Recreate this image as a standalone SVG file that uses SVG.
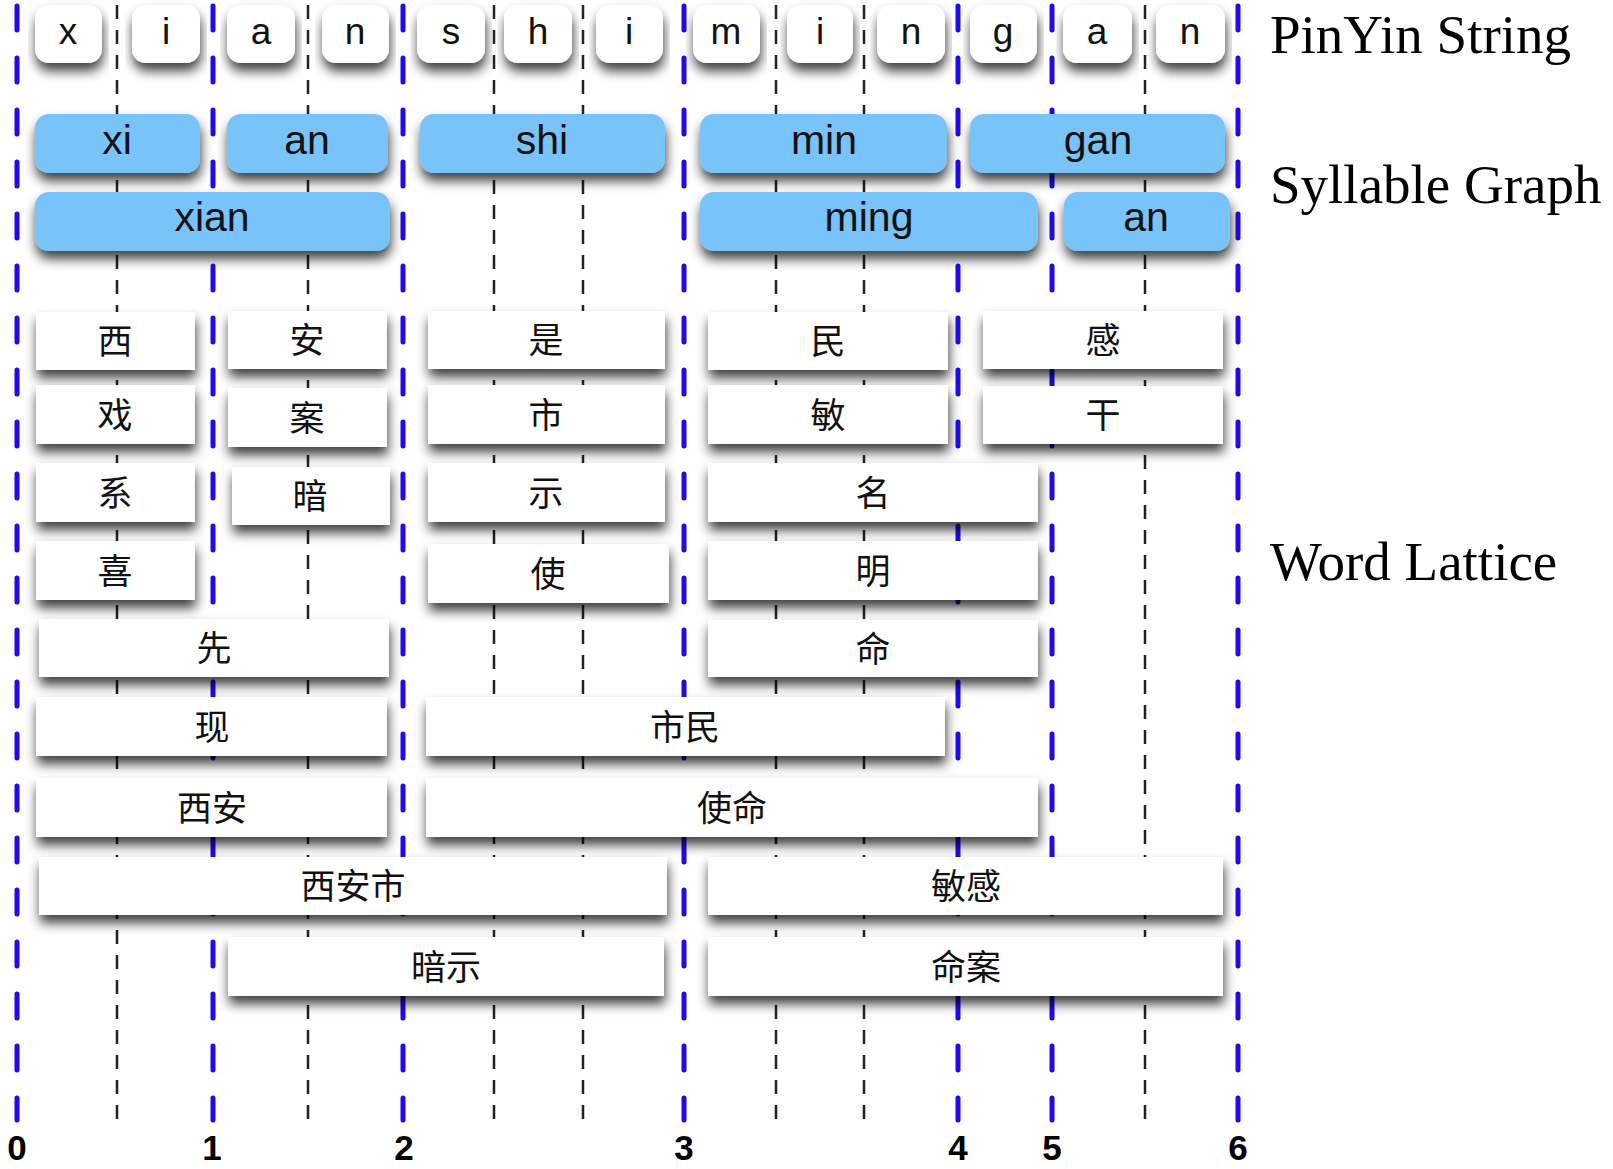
<svg xmlns="http://www.w3.org/2000/svg" width="1613" height="1169" viewBox="0 0 1613 1169">
<defs>
<filter id="sh" x="-10%" y="-30%" width="120%" height="190%">
<feDropShadow dx="1" dy="8" stdDeviation="6" flood-color="#000" flood-opacity="0.75"/>
</filter>
<style>
.blue{stroke:#2108f0;stroke-width:5;stroke-dasharray:24 28;stroke-linecap:round;fill:none}
.blk{stroke:#222;stroke-width:2.5;stroke-dasharray:14 11;fill:none}
.let rect{fill:#fff;filter:url(#sh)}
.syl rect{fill:#78c3fa;filter:url(#sh)}
.wrd rect{fill:#fff;filter:url(#sh)}
.lt{font-family:"Liberation Sans",Arial,sans-serif;font-size:37px;text-anchor:middle;fill:#111}
.st{font-family:"Liberation Sans",Arial,sans-serif;font-size:41px;text-anchor:middle;fill:#111}
.wt{font-family:"Noto Sans CJK SC","Liberation Sans",sans-serif;font-size:35px;text-anchor:middle;fill:#111}
.lab{font-family:"Liberation Serif","Times New Roman",serif;font-size:55px;fill:#000}
.num{font-family:"Liberation Sans",Arial,sans-serif;font-weight:bold;font-size:35px;text-anchor:middle;fill:#000}
</style>
</defs>
<rect width="1613" height="1169" fill="#fff"/>
<g id="connectors">
<line class="blue" x1="17" y1="6" x2="17" y2="1120"/>
<line class="blue" x1="213" y1="6" x2="213" y2="1120"/>
<line class="blue" x1="403" y1="6" x2="403" y2="1120"/>
<line class="blue" x1="684" y1="6" x2="684" y2="1120"/>
<line class="blue" x1="958" y1="6" x2="958" y2="1120"/>
<line class="blue" x1="1052" y1="6" x2="1052" y2="1120"/>
<line class="blue" x1="1238" y1="6" x2="1238" y2="1120"/>
<line class="blk" x1="117" y1="5" x2="117" y2="1120"/>
<line class="blk" x1="308" y1="5" x2="308" y2="1120"/>
<line class="blk" x1="494" y1="5" x2="494" y2="1120"/>
<line class="blk" x1="583" y1="5" x2="583" y2="1120"/>
<line class="blk" x1="776" y1="5" x2="776" y2="1120"/>
<line class="blk" x1="864" y1="5" x2="864" y2="1120"/>
<line class="blk" x1="1145" y1="5" x2="1145" y2="1120"/>
</g>
<g id="pinyin-string">
<g id="l1" class="let"><rect x="35" y="5" width="67" height="58" rx="14"/><text class="lt" x="68" y="44">x</text></g>
<g id="l2" class="let"><rect x="132" y="5" width="68" height="58" rx="14"/><text class="lt" x="166" y="44">i</text></g>
<g id="l3" class="let"><rect x="227" y="5" width="68" height="58" rx="14"/><text class="lt" x="261" y="44">a</text></g>
<g id="l4" class="let"><rect x="322" y="5" width="67" height="58" rx="14"/><text class="lt" x="355" y="44">n</text></g>
<g id="l5" class="let"><rect x="417" y="5" width="68" height="58" rx="14"/><text class="lt" x="451" y="44">s</text></g>
<g id="l6" class="let"><rect x="504" y="5" width="68" height="58" rx="14"/><text class="lt" x="538" y="44">h</text></g>
<g id="l7" class="let"><rect x="596" y="5" width="67" height="58" rx="14"/><text class="lt" x="629" y="44">i</text></g>
<g id="l8" class="let"><rect x="693" y="5" width="67" height="58" rx="14"/><text class="lt" x="726" y="44">m</text></g>
<g id="l9" class="let"><rect x="787" y="5" width="66" height="58" rx="14"/><text class="lt" x="820" y="44">i</text></g>
<g id="l10" class="let"><rect x="877" y="5" width="68" height="58" rx="14"/><text class="lt" x="911" y="44">n</text></g>
<g id="l11" class="let"><rect x="970" y="5" width="67" height="58" rx="14"/><text class="lt" x="1003" y="44">g</text></g>
<g id="l12" class="let"><rect x="1063" y="5" width="69" height="58" rx="14"/><text class="lt" x="1097" y="44">a</text></g>
<g id="l13" class="let"><rect x="1156" y="5" width="69" height="58" rx="14"/><text class="lt" x="1190" y="44">n</text></g>
</g>
<g id="syllable-graph">
<g id="s-xi" class="syl"><rect x="35" y="114" width="165" height="59" rx="14"/><text class="st" x="117" y="154">xi</text></g>
<g id="s-an1" class="syl"><rect x="227" y="114" width="161" height="59" rx="14"/><text class="st" x="307" y="154">an</text></g>
<g id="s-shi" class="syl"><rect x="420" y="114" width="245" height="59" rx="14"/><text class="st" x="542" y="154">shi</text></g>
<g id="s-min" class="syl"><rect x="700" y="114" width="247" height="59" rx="14"/><text class="st" x="824" y="154">min</text></g>
<g id="s-gan" class="syl"><rect x="970" y="114" width="255" height="59" rx="14"/><text class="st" x="1098" y="154">gan</text></g>
<g id="s-xian" class="syl"><rect x="35" y="192" width="355" height="59" rx="14"/><text class="st" x="212" y="231">xian</text></g>
<g id="s-ming" class="syl"><rect x="700" y="192" width="338" height="59" rx="14"/><text class="st" x="869" y="231">ming</text></g>
<g id="s-an2" class="syl"><rect x="1064" y="192" width="166" height="59" rx="14"/><text class="st" x="1146" y="231">an</text></g>
</g>
<g id="word-lattice">
<g id="w-xi1" class="wrd"><rect x="36" y="312" width="159" height="58"/><text class="wt" x="115" y="354">西</text></g>
<g id="w-an1" class="wrd"><rect x="228" y="311" width="159" height="58"/><text class="wt" x="307" y="353">安</text></g>
<g id="w-xi2" class="wrd"><rect x="36" y="385" width="159" height="59"/><text class="wt" x="115" y="428">戏</text></g>
<g id="w-an2" class="wrd"><rect x="228" y="388" width="159" height="59"/><text class="wt" x="307" y="431">案</text></g>
<g id="w-xi3" class="wrd"><rect x="36" y="463" width="159" height="59"/><text class="wt" x="115" y="506">系</text></g>
<g id="w-an3" class="wrd"><rect x="232" y="467" width="158" height="58"/><text class="wt" x="310" y="509">暗</text></g>
<g id="w-xi4" class="wrd"><rect x="36" y="541" width="159" height="59"/><text class="wt" x="115" y="584">喜</text></g>
<g id="w-xian1" class="wrd"><rect x="39" y="619" width="350" height="58"/><text class="wt" x="214" y="661">先</text></g>
<g id="w-xian2" class="wrd"><rect x="36" y="697" width="351" height="59"/><text class="wt" x="212" y="740">现</text></g>
<g id="w-xian3" class="wrd"><rect x="36" y="778" width="351" height="59"/><text class="wt" x="212" y="821">西安</text></g>
<g id="w-xianshi" class="wrd"><rect x="39" y="857" width="628" height="58"/><text class="wt" x="353" y="899">西安市</text></g>
<g id="w-anshi" class="wrd"><rect x="228" y="937" width="436" height="59"/><text class="wt" x="446" y="980">暗示</text></g>
<g id="w-shi1" class="wrd"><rect x="428" y="311" width="237" height="58"/><text class="wt" x="546" y="353">是</text></g>
<g id="w-shi2" class="wrd"><rect x="428" y="385" width="237" height="59"/><text class="wt" x="546" y="428">市</text></g>
<g id="w-shi3" class="wrd"><rect x="428" y="463" width="237" height="59"/><text class="wt" x="546" y="506">示</text></g>
<g id="w-shi4" class="wrd"><rect x="428" y="544" width="241" height="59"/><text class="wt" x="548" y="587">使</text></g>
<g id="w-shimin" class="wrd"><rect x="426" y="697" width="519" height="59"/><text class="wt" x="685" y="740">市民</text></g>
<g id="w-shiming" class="wrd"><rect x="426" y="778" width="612" height="59"/><text class="wt" x="732" y="821">使命</text></g>
<g id="w-min1" class="wrd"><rect x="708" y="312" width="240" height="58"/><text class="wt" x="828" y="354">民</text></g>
<g id="w-min2" class="wrd"><rect x="708" y="385" width="240" height="59"/><text class="wt" x="828" y="428">敏</text></g>
<g id="w-ming1" class="wrd"><rect x="708" y="463" width="330" height="59"/><text class="wt" x="873" y="506">名</text></g>
<g id="w-ming2" class="wrd"><rect x="708" y="541" width="330" height="59"/><text class="wt" x="873" y="584">明</text></g>
<g id="w-ming3" class="wrd"><rect x="708" y="620" width="330" height="57"/><text class="wt" x="873" y="662">命</text></g>
<g id="w-mingan1" class="wrd"><rect x="708" y="857" width="515" height="58"/><text class="wt" x="966" y="899">敏感</text></g>
<g id="w-mingan2" class="wrd"><rect x="708" y="937" width="515" height="59"/><text class="wt" x="966" y="980">命案</text></g>
<g id="w-gan1" class="wrd"><rect x="983" y="311" width="240" height="58"/><text class="wt" x="1103" y="353">感</text></g>
<g id="w-gan2" class="wrd"><rect x="983" y="386" width="240" height="58"/><text class="wt" x="1103" y="428">干</text></g>
</g>
<g id="labels">
<text class="lab" x="1270" y="53">PinYin String</text>
<text class="lab" x="1270" y="203">Syllable Graph</text>
<text class="lab" x="1270" y="580">Word Lattice</text>
</g>
<g id="positions">
<text class="num" x="17" y="1160">0</text>
<text class="num" x="212" y="1160">1</text>
<text class="num" x="404" y="1160">2</text>
<text class="num" x="684" y="1160">3</text>
<text class="num" x="958" y="1160">4</text>
<text class="num" x="1052" y="1160">5</text>
<text class="num" x="1238" y="1160">6</text>
</g>
</svg>
